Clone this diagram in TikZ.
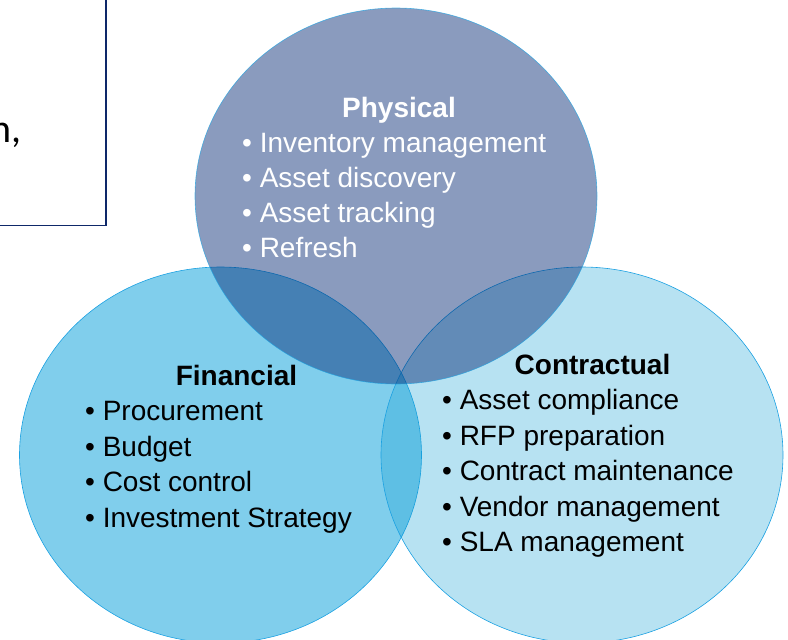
\documentclass[tikz,border=0pt]{standalone}
\usepackage{fontspec}
\setmainfont{Liberation Sans}
\newfontfamily\boxfont{Carlito}
\usetikzlibrary{shapes.geometric}

\definecolor{navyline}{RGB}{14,40,105}
\definecolor{physfill}{RGB}{0,38,114}
\definecolor{finfill}{RGB}{128,206,236}
\definecolor{contrfill}{RGB}{18,158,211}
\definecolor{rimblue}{RGB}{27,161,226}

\tikzset{
  venn/.style={ellipse, minimum width=402pt, minimum height=376pt, inner sep=0pt,
    draw=rimblue, line width=0.6pt},
  head/.style={font=\bfseries\fontsize{28}{34}\selectfont, inner sep=0pt, anchor=base},
  item/.style={font=\fontsize{28}{34}\selectfont, inner sep=0pt, anchor=base west},
}

\begin{document}
\begin{tikzpicture}[x=1pt, y=-1pt]
  \useasboundingbox (0,0) rectangle (788,640);

  % framed text box, cut off at the page edge
  \draw[navyline, line width=1.5pt] (-20,-20) rectangle (106,225.5);
  \node[font=\boxfont\fontsize{40}{48}\selectfont, inner sep=0pt, anchor=base east] (boxtext) at (22,142) {n,};

  % the three circles
  \node[venn, fill=finfill] (fin) at (220.5,455) {};
  \node[venn, fill=contrfill, fill opacity=0.3] (contr) at (582,455) {};
  \node[venn, fill=physfill, fill opacity=0.46, draw opacity=0.7] (phys) at (396,196) {};

  % Physical
  \node[head, white] (physhead) at (399,117) {Physical};
  \foreach \t [count=\i] in {Inventory management, Asset discovery, Asset tracking, Refresh}
    \node[item, white] (phys\i) at (242,117+35*\i) {• \t};

  % Financial
  \node[head] (finhead) at (236.5,385) {Financial};
  \foreach \t [count=\i] in {Procurement, Budget, Cost control, Investment Strategy}
    \node[item] (fin\i) at (85,385+35.5*\i) {• \t};

  % Contractual
  \node[head] (contrhead) at (592.5,374) {Contractual};
  \foreach \t [count=\i] in {Asset compliance, RFP preparation, Contract maintenance, Vendor management, SLA management}
    \node[item] (contr\i) at (442,374+35.5*\i) {• \t};
\end{tikzpicture}
\end{document}
